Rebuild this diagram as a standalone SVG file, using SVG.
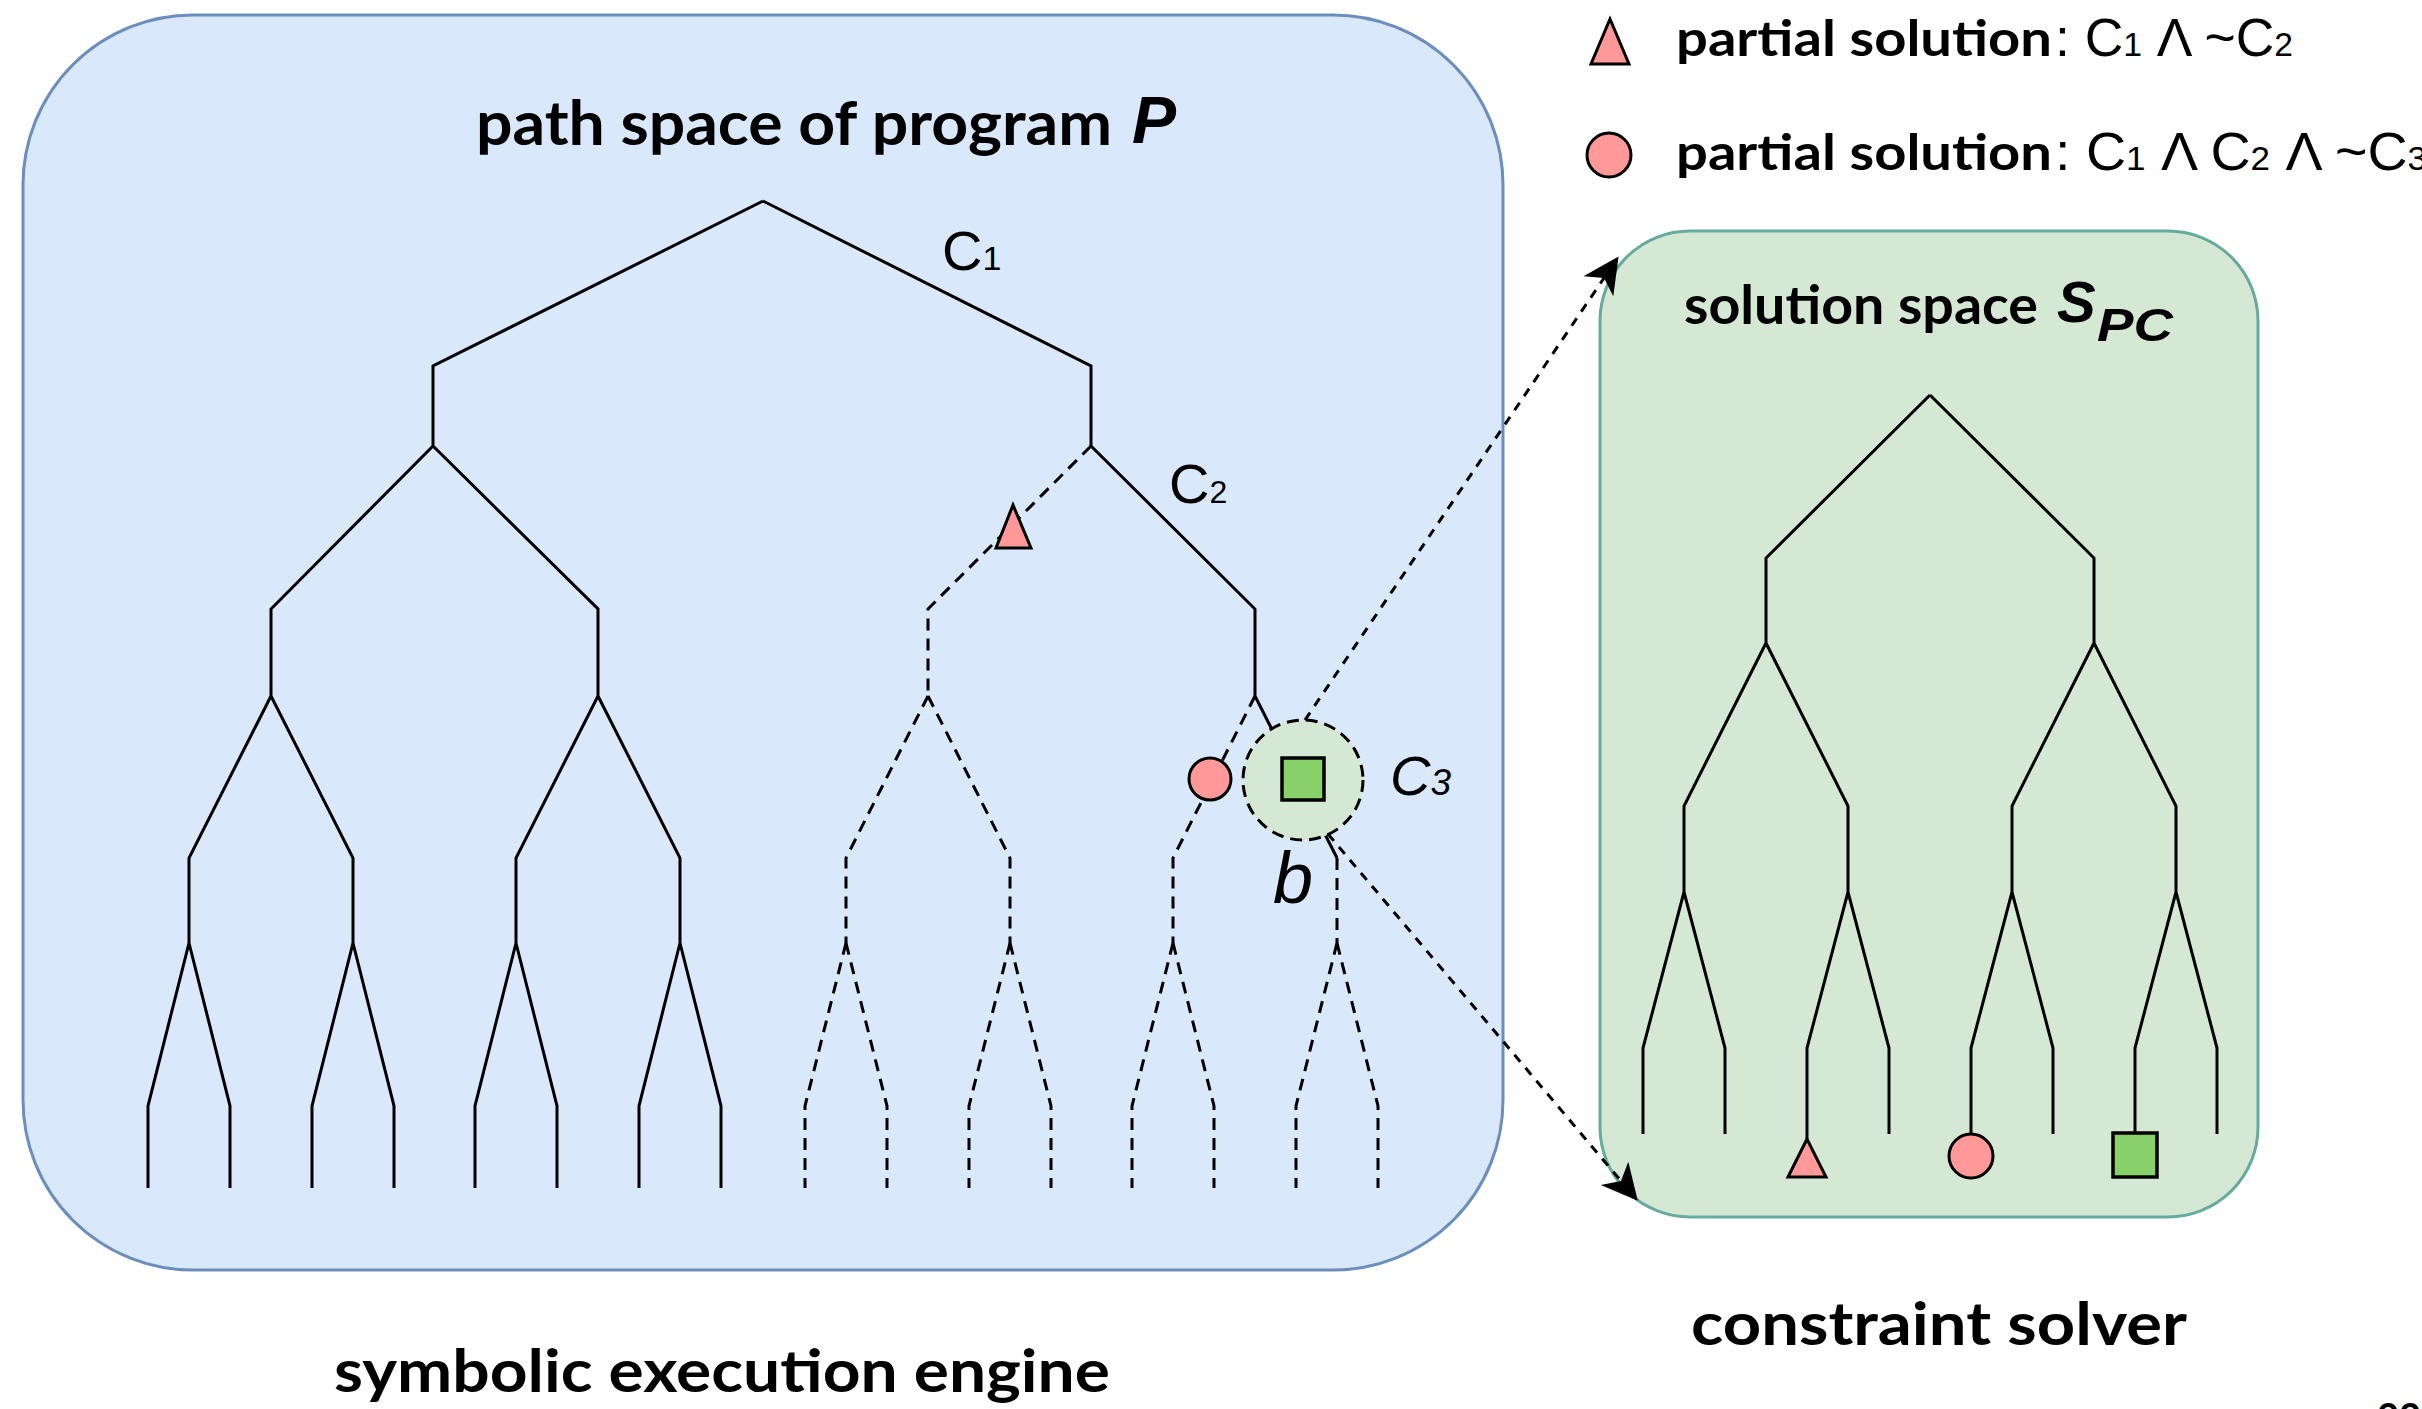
<svg xmlns="http://www.w3.org/2000/svg" width="2422" height="1409" viewBox="0 0 2422 1409">
  <style>
    .panel-blue { fill: #dae8fc; stroke: #6c8ebf; stroke-width: 3; }
    .panel-green { fill: #d5e8d4; stroke: #67ab9f; stroke-width: 3; }
    .branch { fill: none; stroke: #000; stroke-width: 3; }
    .branch-dashed { fill: none; stroke: #000; stroke-width: 3; stroke-dasharray: 12 8; }
    .partial { fill: #ff9999; stroke: #000; stroke-width: 3; }
    .full { fill: #88d06a; stroke: #000; stroke-width: 3.5; }
    .focus { fill: #d5e8d4; stroke: #000; stroke-width: 3; stroke-dasharray: 12 7; }
    .link { fill: none; stroke: #000; stroke-width: 3; stroke-dasharray: 9 8; }
    .caption { font-family: Lato, "Open Sans", sans-serif; font-weight: 700; fill: #000; }
    .math { font-family: "Liberation Sans", Arial, sans-serif; fill: #000; }
    .mathbold { font-family: "Liberation Sans", Arial, sans-serif; font-weight: 700; font-style: italic; fill: #000; }
  </style>
  <defs>
    <marker id="arrow" markerUnits="userSpaceOnUse" viewBox="-12 -20 40 40" refX="0" refY="0" markerWidth="40" markerHeight="40" orient="auto">
      <path d="M26,0 L-10,-18 L0,0 L-10,18 Z" fill="#000"/>
    </marker>
  </defs>

  <!-- symbolic execution engine panel -->
  <g id="engine-panel">
    <rect class="panel-blue" x="23" y="15" width="1480" height="1255" rx="170" ry="170"/>
    <text class="caption" x="476" y="145" font-size="62" textLength="636" lengthAdjust="spacingAndGlyphs">path space of program</text>
    <text class="mathbold" x="1132" y="143" font-size="66">P</text>
  </g>

  <!-- constraint solver panel -->
  <g id="solver-panel">
    <rect class="panel-green" x="1600" y="231" width="658" height="986" rx="90" ry="90"/>
    <text class="caption" x="1684" y="324" font-size="54" textLength="354" lengthAdjust="spacingAndGlyphs">solution space</text>
    <text class="mathbold" x="2057" y="322" font-size="58">S</text>
    <text class="mathbold" x="2097" y="341" font-size="46" textLength="76" lengthAdjust="spacingAndGlyphs">PC</text>
  </g>

  <!-- path tree of the program -->
  <g id="path-tree">
    <path class="branch" d="M763,201 L433,366 L433,446 M763,201 L1091,366 L1091,446
      M433,446 L271,609 L271,696 M433,446 L598,609 L598,696 M1091,446 L1255,609 L1255,696
      M271,696 L189,858 L189,943 M271,696 L353,858 L353,943
      M598,696 L516,858 L516,943 M598,696 L680,858 L680,943
      M1255,696 L1337,858
      M189,943 L148,1106 L148,1188 M189,943 L230,1106 L230,1188
      M353,943 L312,1106 L312,1188 M353,943 L394,1106 L394,1188
      M516,943 L475,1106 L475,1188 M516,943 L557,1106 L557,1188
      M680,943 L639,1106 L639,1188 M680,943 L721,1106 L721,1188"/>
    <path class="branch-dashed" d="M1091,446 L928,609 L928,696"/>
    <path class="branch-dashed" d="M928,696 L846,858 L846,943"/>
    <path class="branch-dashed" d="M928,696 L1010,858 L1010,943"/>
    <path class="branch-dashed" d="M1255,696 L1173,858 L1173,943"/>
    <path class="branch-dashed" d="M1337,858 L1337,943"/>
    <path class="branch-dashed" d="M846,943 L805,1106 L805,1188"/>
    <path class="branch-dashed" d="M846,943 L887,1106 L887,1188"/>
    <path class="branch-dashed" d="M1010,943 L969,1106 L969,1188"/>
    <path class="branch-dashed" d="M1010,943 L1051,1106 L1051,1188"/>
    <path class="branch-dashed" d="M1173,943 L1132,1106 L1132,1188"/>
    <path class="branch-dashed" d="M1173,943 L1214,1106 L1214,1188"/>
    <path class="branch-dashed" d="M1337,943 L1296,1106 L1296,1188"/>
    <path class="branch-dashed" d="M1337,943 L1378,1106 L1378,1188"/>
  </g>

  <!-- solution tree -->
  <g id="solution-tree">
    <path class="branch" d="M1930,395 L1766,558 L1766,643 M1930,395 L2094,558 L2094,643
      M1766,643 L1684,806 L1684,892 M1766,643 L1848,806 L1848,892
      M2094,643 L2012,806 L2012,892 M2094,643 L2176,806 L2176,892
      M1684,892 L1643,1048 L1643,1134 M1684,892 L1725,1048 L1725,1134
      M1848,892 L1807,1048 L1807,1139 M1848,892 L1889,1048 L1889,1134
      M2012,892 L1971,1048 L1971,1134 M2012,892 L2053,1048 L2053,1134
      M2176,892 L2135,1048 L2135,1133 M2176,892 L2217,1048 L2217,1134"/>
  </g>

  <!-- markers on the path tree -->
  <g id="tree-triangle">
    <polygon class="partial" points="1013,505 996,548 1031,548"/>
  </g>
  <g id="tree-circle">
    <circle class="partial" cx="1210" cy="779" r="21"/>
  </g>
  <g id="branch-b">
    <circle class="focus" cx="1303" cy="780" r="60"/>
    <rect class="full" x="1282" y="758" width="42" height="42"/>
    <text class="math" x="1273" y="903" font-size="72" font-style="italic">b</text>
  </g>

  <!-- markers on the solution tree -->
  <g id="solution-triangle">
    <polygon class="partial" points="1807,1139 1788,1177 1826,1177"/>
  </g>
  <g id="solution-circle">
    <circle class="partial" cx="1971" cy="1156" r="22"/>
  </g>
  <g id="solution-square">
    <rect class="full" x="2113" y="1133" width="44" height="44"/>
  </g>

  <!-- branch condition labels -->
  <g id="label-c1">
    <text class="math" x="942" y="270" font-size="56">C<tspan font-size="34">1</tspan></text>
  </g>
  <g id="label-c2">
    <text class="math" x="1169" y="503" font-size="56">C<tspan font-size="32">2</tspan></text>
  </g>
  <g id="label-c3">
    <text class="math" x="1390" y="795" font-size="56" font-style="italic">C<tspan font-size="37">3</tspan></text>
  </g>

  <!-- legend -->
  <g id="legend-triangle">
    <polygon class="partial" points="1610,19 1591,64 1629,64"/>
    <text class="caption" x="1676" y="56" font-size="50" textLength="376" lengthAdjust="spacingAndGlyphs">partial solution</text>
    <text class="math" x="2055" y="56" font-size="54" textLength="238" lengthAdjust="spacingAndGlyphs">: C<tspan font-size="34">1</tspan> Λ ~C<tspan font-size="34">2</tspan></text>
  </g>
  <g id="legend-circle">
    <circle class="partial" cx="1609" cy="155" r="22"/>
    <text class="caption" x="1676" y="170" font-size="50" textLength="376" lengthAdjust="spacingAndGlyphs">partial solution</text>
    <text class="math" x="2055" y="170" font-size="54" textLength="372" lengthAdjust="spacingAndGlyphs">: C<tspan font-size="34">1</tspan> Λ C<tspan font-size="34">2</tspan> Λ ~C<tspan font-size="34">3</tspan></text>
  </g>

  <!-- connectors from branch b to the solution space -->
  <g id="connectors">
    <line class="link" x1="1305" y1="720" x2="1604" y2="278" marker-end="url(#arrow)"/>
    <line class="link" x1="1328" y1="834" x2="1621" y2="1181" marker-end="url(#arrow)"/>
  </g>

  <!-- component captions -->
  <g id="captions">
    <text class="caption" x="334" y="1392" font-size="60" textLength="776" lengthAdjust="spacingAndGlyphs">symbolic execution engine</text>
    <text class="caption" x="1691" y="1345" font-size="60" textLength="496" lengthAdjust="spacingAndGlyphs">constraint solver</text>
    <text class="caption" x="2377" y="1431" font-size="38">22</text>
  </g>
</svg>
